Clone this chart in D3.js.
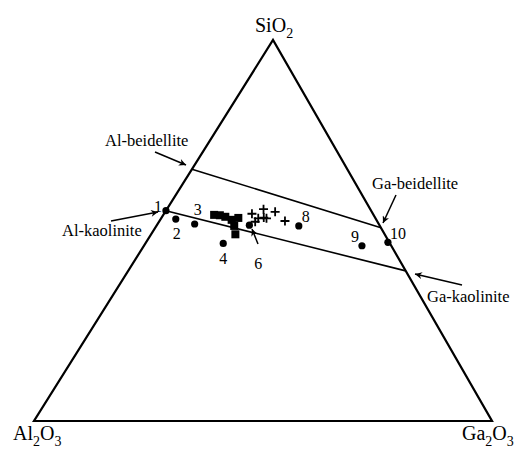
<!DOCTYPE html>
<html>
<head>
<meta charset="utf-8">
<script src="https://cdn.jsdelivr.net/npm/d3@7"></script>
<style>
body { margin: 0; background: #fff; }
svg { display: block; font-family: "Liberation Serif", "Times New Roman", serif; }
</style>
</head>
<body>
<svg id="chart" width="514" height="450"></svg>
<script>
// compositions as [Al2O3, Ga2O3, SiO2] in percent
var vertexNames = ["Al2O3", "Ga2O3", "SiO2"];

var numbered = [
        [44.8, 0.0, 55.2],
        [43.7, 3.3, 53.0],
        [40.2, 8.1, 51.7],
        [36.4, 17.0, 46.6],
        [28.4, 20.2, 51.4],
        [17.7, 31.1, 51.2],
        [6.4, 47.6, 46.0],
        [0.3, 52.8, 46.9]
];
var numberLabels = ["1", "2", "3", "4", "6", "8", "9", "10"];

var squares = [
        [34.8, 11.1, 54.1],
        [33.6, 12.4, 54.0],
        [32.6, 13.8, 53.6],
        [31.6, 15.6, 52.8],
        [29.9, 16.8, 53.3],
        [31.8, 17.0, 51.2],
        [32.6, 18.4, 49.0]
];

var crosses = [
        [26.4, 19.2, 54.4],
        [23.3, 21.1, 55.6],
        [24.3, 22.3, 53.4],
        [21.1, 24.0, 54.9],
        [20.1, 27.4, 52.5],
        [25.6, 21.2, 53.2],
        [26.7, 21.0, 52.3],
        [23.8, 23.0, 53.2]
];

// end members of the two joins
var beidelliteJoin = [[33.9, 0.0, 66.1], [0.0, 49.3, 50.7]];
var kaoliniteJoin  = [[44.8, 0.0, 55.2], [0.0, 60.6, 39.4]];

var svg = d3.select("#chart");

// triangle corners in pixels: Al2O3, Ga2O3, SiO2
var corner = [[34, 421], [492, 421], [273, 40]];

var yScale = d3.scaleLinear().domain([0, 100]).range([corner[0][1], corner[2][1]]);
var xLeft  = d3.scaleLinear().domain([0, 100]).range([corner[0][0], corner[2][0]]);
var xSpan  = d3.scaleLinear().domain([0, 100]).range([0, corner[1][0] - corner[0][0]]);

function px(d) {
        var s = d[2], g = d[1];
        return [xLeft(s) + xSpan(g), yScale(s)];
}

var line = d3.line();

// outer triangle
svg.append("path")
        .attr("d", line([px([100,0,0]), px([0,100,0]), px([0,0,100])]) + "Z")
        .attr("fill", "none")
        .attr("stroke", "#000")
        .attr("stroke-width", 2.2)
        .attr("stroke-linejoin", "miter");

// joins
[beidelliteJoin, kaoliniteJoin].forEach(function(j) {
        svg.append("path")
                .attr("d", line(j.map(px)))
                .attr("fill", "none")
                .attr("stroke", "#000")
                .attr("stroke-width", 1.6);
});

// arrow marker
svg.append("defs").append("marker")
        .attr("id", "arr")
        .attr("viewBox", "0 0 10 10")
        .attr("refX", 10).attr("refY", 5)
        .attr("markerWidth", 9).attr("markerHeight", 7)
        .attr("markerUnits", "userSpaceOnUse")
        .attr("orient", "auto")
        .append("path")
        .attr("d", "M0,0 L10,5 L0,10 L3,5 Z")
        .attr("fill", "#000");

var arrows = [
        [[155, 152], [186, 165]],
        [[111, 221], [158, 212]],
        [[396, 195], [383, 223]],
        [[462, 285], [415, 274]],
        [[258, 244], [252, 229]]
];
svg.selectAll(".arrow")
        .data(arrows)
        .enter().append("line")
        .attr("class", "arrow")
        .attr("x1", function(d) { return d[0][0]; })
        .attr("y1", function(d) { return d[0][1]; })
        .attr("x2", function(d) { return d[1][0]; })
        .attr("y2", function(d) { return d[1][1]; })
        .attr("stroke", "#000")
        .attr("stroke-width", 1.5)
        .attr("marker-end", "url(#arr)");

// squares
svg.selectAll(".sq")
        .data(squares)
        .enter().append("rect")
        .attr("class", "sq")
        .attr("x", function(d) { return px(d)[0] - 4; })
        .attr("y", function(d) { return px(d)[1] - 4; })
        .attr("width", 8)
        .attr("height", 8)
        .attr("fill", "#000");

// crosses
svg.selectAll(".cr")
        .data(crosses)
        .enter().append("path")
        .attr("class", "cr")
        .attr("d", function(d) {
                var p = px(d);
                return "M" + (p[0] - 4.5) + "," + p[1] + "H" + (p[0] + 4.5) +
                       "M" + p[0] + "," + (p[1] - 4.5) + "V" + (p[1] + 4.5);
        })
        .attr("stroke", "#000")
        .attr("stroke-width", 1.8);

// numbered circles
svg.selectAll(".pt")
        .data(numbered)
        .enter().append("circle")
        .attr("class", "pt")
        .attr("cx", function(d) { return px(d)[0]; })
        .attr("cy", function(d) { return px(d)[1]; })
        .attr("r", 3.6)
        .attr("fill", "#000");

var labelOffset = [[-8, -4], [1, 14], [3, -15], [0, 15], [9, 38], [7, -9], [-7, -9], [10, -8.5]];
svg.selectAll(".num")
        .data(numbered)
        .enter().append("text")
        .attr("class", "num")
        .attr("x", function(d, i) { return px(d)[0] + labelOffset[i][0]; })
        .attr("y", function(d, i) { return px(d)[1] + labelOffset[i][1] + 5.5; })
        .attr("text-anchor", "middle")
        .attr("font-size", 16)
        .text(function(d, i) { return numberLabels[i]; });

// mineral names
var names = [
        ["Al-beidellite", 105, 146],
        ["Al-kaolinite", 62, 236],
        ["Ga-beidellite", 372, 189],
        ["Ga-kaolinite", 427, 302]
];
svg.selectAll(".name")
        .data(names)
        .enter().append("text")
        .attr("class", "name")
        .attr("x", function(d) { return d[1]; })
        .attr("y", function(d) { return d[2]; })
        .attr("font-size", 16.5)
        .text(function(d) { return d[0]; });

// vertex labels with subscripts
function formula(x, y, parts) {
        var t = svg.append("text").attr("x", x).attr("y", y).attr("font-size", 20);
        var shifted = false;
        parts.forEach(function(p) {
                var s = t.append("tspan").text(p.t);
                if (p.sub) {
                        s.attr("font-size", 14).attr("dy", 6);
                        shifted = true;
                } else if (shifted) {
                        s.attr("dy", -6);
                        shifted = false;
                }
        });
}
formula(255, 32, [{t: "SiO"}, {t: "2", sub: true}]);
formula(13, 440, [{t: "Al"}, {t: "2", sub: true}, {t: "O"}, {t: "3", sub: true}]);
formula(462, 440, [{t: "Ga"}, {t: "2", sub: true}, {t: "O"}, {t: "3", sub: true}]);
</script>
</body>
</html>
